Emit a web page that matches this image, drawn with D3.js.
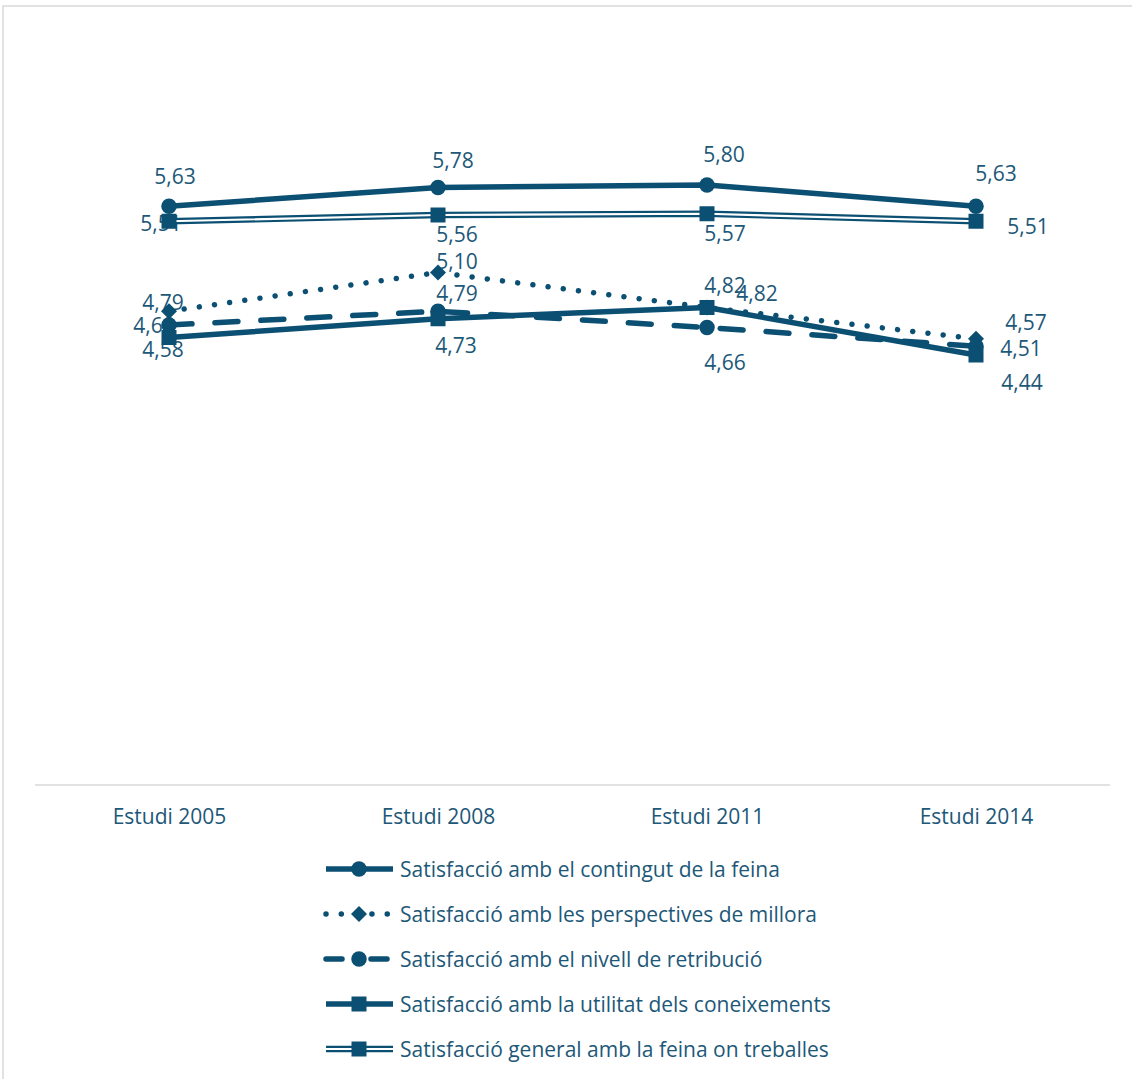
<!DOCTYPE html>
<html><head><meta charset="utf-8">
<script src="https://cdn.jsdelivr.net/npm/d3@7/dist/d3.min.js"></script>
<style>
html,body{margin:0;padding:0;background:#fff;}
svg text{font-family:"Open Sans",Lato,sans-serif;fill:#1d5878;}
</style></head>
<body>
<svg id="chart" width="1132" height="1079"></svg>
<script>
const categories = ["Estudi 2005","Estudi 2008","Estudi 2011","Estudi 2014"];
const seriesNames = [
  "Satisfacció amb el contingut de la feina",
  "Satisfacció amb les perspectives de millora",
  "Satisfacció amb el nivell de retribució",
  "Satisfacció amb la utilitat dels coneixements",
  "Satisfacció general amb la feina on treballes"
];
const contingut   = [5.63, 5.78, 5.80, 5.63];
const perspectives= [4.79, 5.10, 4.82, 4.57];
const retribucio  = [4.68, 4.79, 4.66, 4.51];
const utilitat    = [4.58, 4.73, 4.82, 4.44];
const general     = [5.51, 5.56, 5.57, 5.51];
const yDomain = [1, 7];

// styles & label offsets (presentation only)
const styles = [
  {dash:null, marker:"circle", double:false},
  {dash:"0.01 15.3", legendDash:"0.01 15.3", marker:"diamond", double:false},
  {dash:"23 23", legendDash:"16 29", marker:"circle", double:false},
  {dash:null, marker:"square", double:false},
  {dash:null, marker:"square", double:true}
];
const labelOffsets = [
  [[6,-30],[15,-28],[17,-31],[20,-33]],
  [[-6,-9],[19,-12],[50,-15],[50,-17]],
  [[-15,0],[19,-18],[18,34],[45,2]],
  [[-6,11],[18,26],[18,-23],[46,27]],
  [[-8,2],[19,19],[18,19],[52,5]]
];
const values = [contingut, perspectives, retribucio, utilitat, general];

const color = "#0b4f73";
const FS = 21;
const svg = d3.select("#chart");
const W = 1132, H = 1079;

// chart border
svg.append("rect").attr("x",3).attr("y",6).attr("width",W+10).attr("height",H+10)
  .attr("fill","none").attr("stroke","#d9d9d9").attr("stroke-width",1.5);

const x = d3.scalePoint().domain(categories).range([169, 976]);
const y = d3.scaleLinear().domain(yDomain).range([785, 35]);

// baseline
svg.append("line").attr("x1",35).attr("x2",1110).attr("y1",785).attr("y2",785)
  .attr("stroke","#d9d9d9").attr("stroke-width",1.5);

// category axis
const xAxis = d3.axisBottom(x).tickSize(0).tickPadding(0);
const gx = svg.append("g").attr("transform","translate(0,785)").call(xAxis);
gx.select(".domain").remove();
gx.selectAll("text").attr("font-size",FS).attr("dy",null).attr("y",39)
  .style("font-family","'Open Sans',Lato,sans-serif").attr("fill","#1d5878");

function markerPath(type, s){
  if(type==="circle") return d3.symbol(d3.symbolCircle, Math.PI*s*s/4)();
  if(type==="square") return d3.symbol(d3.symbolSquare, s*s)();
  if(type==="diamond"){ const h=s/2; return `M0,${-h}L${h},0L0,${h}L${-h},0Z`; }
}
const markerSize = {circle:15.5, square:15, diamond:16};

const line = d3.line().x((d,i)=>x(categories[i])).y(d=>y(d));

// labels (drawn beneath series)
const gLabels = svg.append("g");
values.forEach((vals,si)=>{
  vals.forEach((v,i)=>{
    const o = labelOffsets[si][i];
    gLabels.append("text")
      .attr("x", x(categories[i]) + o[0])
      .attr("y", y(v) + o[1])
      .attr("text-anchor","middle").attr("dominant-baseline","central")
      .attr("font-size",FS)
      .text(d3.format(".2f")(v).replace(".",","));
  });
});

function drawLine(g, d, st, pathGen, dash){
  if(st.double){
    g.append("path").attr("d",pathGen(d)).attr("fill","none").attr("stroke",color).attr("stroke-width",6.5);
    g.append("path").attr("d",pathGen(d)).attr("fill","none").attr("stroke","#fff").attr("stroke-width",2.2);
  } else {
    g.append("path").attr("d",pathGen(d)).attr("fill","none").attr("stroke",color)
      .attr("stroke-width",5.5)
      .attr("stroke-linecap", dash ? "round" : "butt")
      .attr("stroke-linejoin","round")
      .attr("stroke-dasharray", dash);
  }
}

// series
values.forEach((vals,si)=>{
  const st = styles[si];
  const g = svg.append("g");
  drawLine(g, vals, st, line, st.dash);
  g.selectAll("path.m").data(vals).join("path").attr("class","m")
    .attr("d", markerPath(st.marker, markerSize[st.marker]))
    .attr("transform",(d,i)=>`translate(${x(categories[i])},${y(d)})`)
    .attr("fill",color);
});

// legend
const legendY0 = 869, legendStep = 45;
const lx = d3.line().x(d=>d[0]).y(d=>d[1]);
seriesNames.forEach((name,si)=>{
  const st = styles[si];
  const cy = legendY0 + si*legendStep;
  const g = svg.append("g");
  drawLine(g, null, st, ()=>lx([[326,cy],[393,cy]]), st.legendDash);
  g.append("path").attr("d", markerPath(st.marker, markerSize[st.marker]))
    .attr("transform",`translate(359,${cy})`).attr("fill",color);
  g.append("text").attr("x",400).attr("y",cy).attr("dominant-baseline","central")
    .attr("font-size",FS).text(name);
});
</script>
</body></html>
